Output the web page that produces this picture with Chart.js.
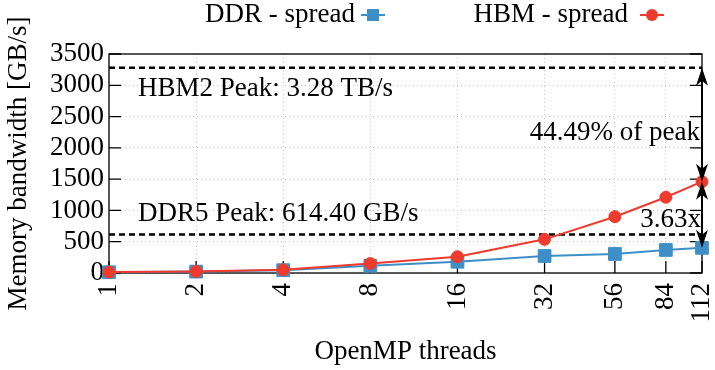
<!DOCTYPE html>
<html>
<head>
<meta charset="utf-8">
<script src="https://cdn.jsdelivr.net/npm/chart.js@4.4.1/dist/chart.umd.min.js"></script>
<style>
  html, body { margin: 0; padding: 0; background: #fff; }
  #wrap { width: 715px; height: 370px; }
</style>
</head>
<body>
<div id="wrap"><canvas id="chart"></canvas></div>
<script>
const threads = [1, 2, 4, 8, 16, 32, 56, 84, 112];
const ddrSpread = [12, 22, 45, 115, 180, 272, 304, 368, 402];
const hbmSpread = [15, 25, 50, 150, 260, 538, 900, 1210, 1459.3];
const yTicks = [0, 500, 1000, 1500, 2000, 2500, 3000, 3500];

const hbmPeak = 3280;
const ddrPeak = 614.4;
const hbmPeakLabel = 'HBM2 Peak: 3.28 TB/s';
const ddrPeakLabel = 'DDR5 Peak: 614.40 GB/s';
const pctLabel = '44.49% of peak';
const ratioLabel = '3.63x';

const colors = {
  ddr: '#3E8FC8',
  hbm: '#EE3B2E',
  grid: '#c4c4c4',
  ink: '#000'
};

const FONT = '"Liberation Serif", "DejaVu Serif", serif';
const FS = 27;

const toPoints = (ys) => threads.map((t, i) => ({ x: t, y: ys[i] }));
const lastX = threads[threads.length - 1];

function arrowHead(ctx, x, y, dir) {
  // dir: -1 points up, 1 points down
  ctx.beginPath();
  ctx.moveTo(x, y);
  ctx.lineTo(x - 6, y - dir * 18);
  ctx.lineTo(x, y - dir * 13);
  ctx.lineTo(x + 6, y - dir * 18);
  ctx.closePath();
  ctx.fill();
}

function doubleArrow(ctx, x, y1, y2) {
  ctx.beginPath();
  ctx.moveTo(x, y1 + 12);
  ctx.lineTo(x, y2 - 12);
  ctx.stroke();
  arrowHead(ctx, x, y1, -1);
  arrowHead(ctx, x, y2, 1);
}

const framePlugin = {
  id: 'frame',
  beforeDatasetsDraw(chart) {
    const { ctx, chartArea: a, scales } = chart;
    ctx.save();
    ctx.strokeStyle = colors.ink;
    ctx.lineWidth = 1.3;
    const tl = 12;
    scales.x.ticks.forEach(t => {
      const px = scales.x.getPixelForValue(t.value);
      ctx.beginPath();
      ctx.moveTo(px, a.bottom);
      ctx.lineTo(px, a.bottom - tl);
      ctx.stroke();
    });
    scales.y.ticks.forEach(t => {
      const py = scales.y.getPixelForValue(t.value);
      ctx.beginPath();
      ctx.moveTo(a.left, py);
      ctx.lineTo(a.left + tl, py);
      ctx.moveTo(a.right, py);
      ctx.lineTo(a.right - tl, py);
      ctx.stroke();
    });
    ctx.strokeRect(a.left, a.top, a.right - a.left, a.bottom - a.top);
    ctx.restore();
  },
  afterDatasetsDraw(chart) {
    const { ctx, chartArea: a, scales } = chart;
    const x = scales.x.getPixelForValue(lastX);
    const yPeak = scales.y.getPixelForValue(hbmPeak);
    const yHbm = scales.y.getPixelForValue(hbmSpread[hbmSpread.length - 1]);
    const yDdr = scales.y.getPixelForValue(ddrSpread[ddrSpread.length - 1]);
    const yDdrPeak = scales.y.getPixelForValue(ddrPeak);
    ctx.save();
    ctx.fillStyle = colors.ink;
    ctx.strokeStyle = colors.ink;
    ctx.lineWidth = 2;
    doubleArrow(ctx, x, yPeak, yHbm);
    doubleArrow(ctx, x, yHbm, yDdr);

    ctx.font = FS + 'px ' + FONT;
    ctx.textBaseline = 'middle';
    ctx.textAlign = 'left';
    ctx.fillText(hbmPeakLabel, a.left + 29, yPeak + 21);
    ctx.fillText(ddrPeakLabel, a.left + 29, yDdrPeak - 21);
    ctx.textAlign = 'right';
    ctx.fillText(pctLabel, x - 2, (yPeak + yHbm) / 2 + 8);
    ctx.fillText(ratioLabel, x - 1, (yHbm + yDdr) / 2 + 5);
    ctx.restore();
  },
  afterDraw(chart) {
    // legend: text first, then the line sample with its marker
    const { ctx } = chart;
    const items = [
      { label: 'DDR - spread', right: 355, cx: 373, color: colors.ddr, shape: 'rect' },
      { label: 'HBM - spread', right: 628, cx: 652, color: colors.hbm, shape: 'circle' }
    ];
    const y = 15;
    ctx.save();
    ctx.font = FS + 'px ' + FONT;
    ctx.textBaseline = 'middle';
    ctx.textAlign = 'right';
    items.forEach(it => {
      ctx.fillStyle = colors.ink;
      ctx.fillText(it.label, it.right, y);
      ctx.strokeStyle = it.color;
      ctx.fillStyle = it.color;
      ctx.lineWidth = 2;
      ctx.beginPath();
      ctx.moveTo(it.cx - 12, y);
      ctx.lineTo(it.cx + 12, y);
      ctx.stroke();
      if (it.shape === 'rect') {
        ctx.fillRect(it.cx - 6, y - 6, 12, 12);
      } else {
        ctx.beginPath();
        ctx.arc(it.cx, y, 6, 0, Math.PI * 2);
        ctx.fill();
      }
    });
    ctx.restore();
  }
};

new Chart(document.getElementById('chart'), {
  type: 'line',
  data: {
    datasets: [
      {
        label: 'HBM - spread',
        data: toPoints(hbmSpread),
        borderColor: colors.hbm,
        backgroundColor: colors.hbm,
        borderWidth: 2,
        pointStyle: 'circle',
        pointRadius: 6,
        pointBorderWidth: 1,
        tension: 0
      },
      {
        label: 'DDR - spread',
        data: toPoints(ddrSpread),
        borderColor: colors.ddr,
        backgroundColor: colors.ddr,
        borderWidth: 2,
        pointStyle: 'rect',
        pointRadius: 9,
        pointBorderWidth: 1,
        tension: 0
      },
      {
        label: 'HBM2 peak',
        data: [{ x: threads[0], y: hbmPeak }, { x: lastX, y: hbmPeak }],
        borderColor: colors.ink,
        borderWidth: 2.5,
        borderDash: [6, 4],
        pointRadius: 0
      },
      {
        label: 'DDR5 peak',
        data: [{ x: threads[0], y: ddrPeak }, { x: lastX, y: ddrPeak }],
        borderColor: colors.ink,
        borderWidth: 2.5,
        borderDash: [6, 4],
        pointRadius: 0
      }
    ]
  },
  options: {
    responsive: true,
    maintainAspectRatio: false,
    animation: false,
    clip: false,
    layout: { padding: { top: 54, right: 13, left: 0, bottom: 0 } },
    plugins: {
      legend: { display: false },
      tooltip: { enabled: false }
    },
    scales: {
      x: {
        type: 'logarithmic',
        min: 1,
        max: lastX,
        afterBuildTicks: (scale) => { scale.ticks = threads.map(v => ({ value: v })); },
        afterFit: (scale) => {
          scale.height = 97;
          scale.paddingLeft = 0;
          scale.paddingRight = 0;
        },
        ticks: {
          autoSkip: false,
          minRotation: 90,
          maxRotation: 90,
          padding: 10,
          color: colors.ink,
          font: { family: FONT, size: FS },
          callback: (v) => String(v)
        },
        grid: {
          color: colors.grid,
          lineWidth: 1,
          tickLength: 0,
          drawTicks: false
        },
        border: { display: false, dash: [1, 3] },
        title: {
          display: true,
          text: 'OpenMP threads',
          color: colors.ink,
          font: { family: FONT, size: FS },
          padding: { top: 0, bottom: 2 }
        }
      },
      y: {
        min: 0,
        max: 3500,
        afterBuildTicks: (scale) => { scale.ticks = yTicks.map(v => ({ value: v })); },
        afterFit: (scale) => { scale.width = 109; },
        ticks: {
          autoSkip: false,
          padding: 5,
          color: colors.ink,
          font: { family: FONT, size: FS },
          callback: (v) => String(v)
        },
        grid: {
          color: colors.grid,
          lineWidth: 1,
          drawTicks: false
        },
        border: { display: false, dash: [1, 3] },
        title: {
          display: true,
          text: 'Memory bandwidth [GB/s]',
          color: colors.ink,
          font: { family: FONT, size: FS },
          padding: { top: 3, bottom: 0 }
        }
      }
    }
  },
  plugins: [framePlugin]
});
</script>
</body>
</html>
